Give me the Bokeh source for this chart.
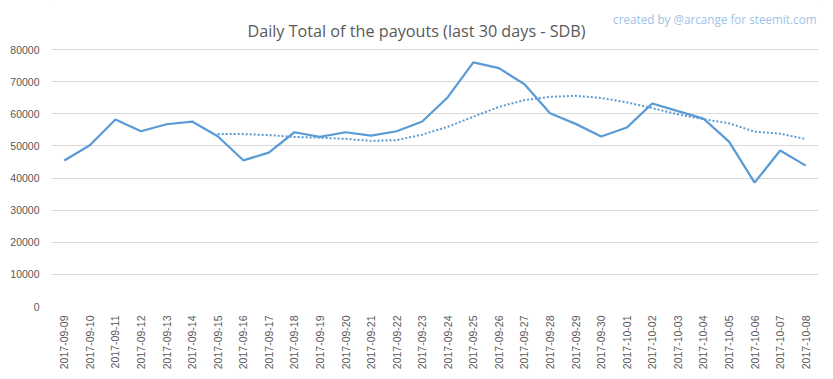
import pandas as pd
from bokeh.plotting import figure
from bokeh.models import ColumnDataSource, Label, FixedTicker, NumeralTickFormatter
from bokeh.embed import file_html
from bokeh.resources import INLINE

dates = ["2017-09-09", "2017-09-10", "2017-09-11", "2017-09-12", "2017-09-13",
         "2017-09-14", "2017-09-15", "2017-09-16", "2017-09-17", "2017-09-18",
         "2017-09-19", "2017-09-20", "2017-09-21", "2017-09-22", "2017-09-23",
         "2017-09-24", "2017-09-25", "2017-09-26", "2017-09-27", "2017-09-28",
         "2017-09-29", "2017-09-30", "2017-10-01", "2017-10-02", "2017-10-03",
         "2017-10-04", "2017-10-05", "2017-10-06", "2017-10-07", "2017-10-08"]
payouts = [45420, 50190, 58200, 54550, 56730, 57580, 53000, 45510, 47900, 54240,
           52800, 54240, 53200, 54550, 57580, 65150, 75970, 74200, 69200, 60160,
           56850, 52900, 55700, 63190, 60800, 58500, 51340, 38560, 48540, 43860]
y_ticks = [0, 10000, 20000, 30000, 40000, 50000, 60000, 70000, 80000]
ma_window = 7

title_text = "Daily Total of the payouts (last 30 days - SDB)"
credit_text = "created by @arcange for steemit.com"

df = pd.DataFrame({"date": dates, "payout": payouts})
df["ma"] = df["payout"].rolling(ma_window).mean()
src = ColumnDataSource(df)
ma_src = ColumnDataSource(df.dropna())

BLUE = "#5B9BD5"
GRID = "#D9D9D9"
TEXT = "#595959"

# layout (pixels)
W, H = 833, 379
BL, BR, BB = 51, 15, 73
frame_w = W - BL - BR
frame_h = H - BB
top_tick_px = 49  # pixel row of the highest tick
y_end = y_ticks[-1] * frame_h / (frame_h - top_tick_px)
band = frame_w / len(dates)

def px_x(px):
    return (px - BL) / band

def px_y(py):
    return (frame_h - py) / frame_h * y_end

p = figure(x_range=dates, y_range=(0, y_end), width=W, height=H,
           output_backend="svg", toolbar_location=None,
           min_border_left=BL, min_border_right=BR, min_border_top=0, min_border_bottom=BB)
p.outline_line_color = None
p.background_fill_color = "white"
p.border_fill_color = "white"
p.x_range.range_padding = 0
p.styles = {"outline": "1px solid #D9D9D9", "outline-offset": "-2px"}

p.line("date", "payout", source=src, line_color=BLUE, line_width=2.25)
p.line("date", "ma", source=ma_src, line_color=BLUE, line_width=2, line_dash="2 2")

p.xgrid.grid_line_color = None
p.ygrid.grid_line_color = GRID
p.ygrid.grid_line_width = 1

p.yaxis.ticker = FixedTicker(ticks=y_ticks)
p.yaxis.formatter = NumeralTickFormatter(format="0")
for ax in (p.xaxis[0], p.yaxis[0]):
    ax.axis_line_color = None
    ax.major_tick_line_color = None
    ax.minor_tick_line_color = None
    ax.major_tick_out = 0
    ax.major_tick_in = 0
    ax.minor_tick_out = 0
    ax.minor_tick_in = 0
    ax.major_label_text_color = TEXT
    ax.major_label_text_font = "Liberation Sans"
    ax.major_label_text_font_size = "10.5px"
p.yaxis.major_label_standoff = 12
p.xaxis.major_label_standoff = 9
p.xaxis.major_label_orientation = 1.5707963

p.add_layout(Label(x=px_x(416), y=px_y(30),
                   text=title_text, text_align="center", text_baseline="alphabetic",
                   text_font="Open Sans", text_font_size="16.2px", text_color=TEXT))
p.add_layout(Label(x=px_x(816), y=px_y(18),
                   text=credit_text, text_align="right", text_baseline="alphabetic",
                   text_font="Open Sans", text_font_size="11.7px", text_color="#9DC3E6"))

open("out.html", "w").write(file_html(p, INLINE))
